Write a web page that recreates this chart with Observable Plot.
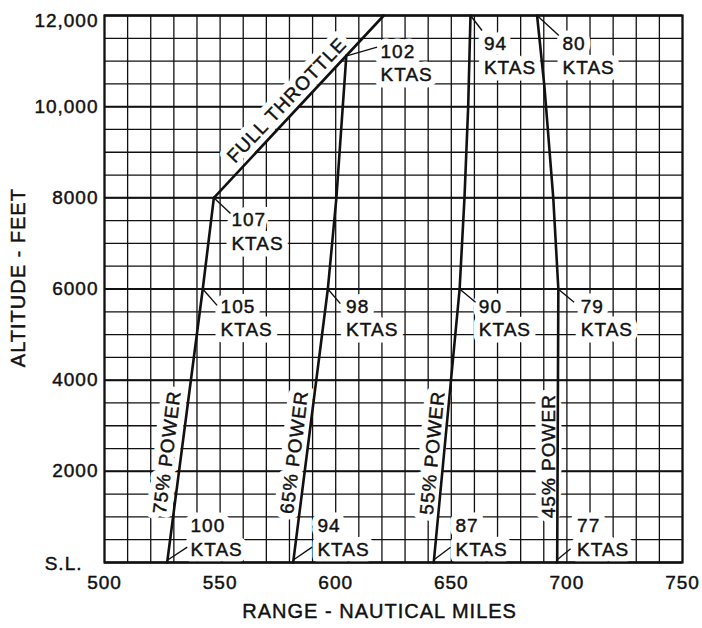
<!DOCTYPE html>
<html>
<head>
<meta charset="utf-8">
<script src="https://cdn.jsdelivr.net/npm/d3@7"></script>
<script src="https://cdn.jsdelivr.net/npm/@observablehq/plot@0.6"></script>
<style>
  html, body { margin: 0; padding: 0; background: white; }
</style>
</head>
<body>
<div id="chart"></div>
<script>
// Axis ticks
const xTicks = [500, 550, 600, 650, 700, 750];
const yTicks = [2000, 4000, 6000, 8000, 10000];
const yTickLabels = ["2000", "4000", "6000", "8000", "10,000"];
const yTopTick = [12000];
const yTopLabel = ["12,000"];
const ySeaLevelTick = [0];
const ySeaLevelLabel = ["S.L."];
const xTitle = "RANGE - NAUTICAL MILES";
const yTitle = "ALTITUDE - FEET";
const xTitlePos = [619, 0];
const yTitlePos = [500, 6250];

// Range curves (nautical miles vs altitude feet)
const power75X = [527.1, 542.5, 547.3];
const power75Y = [0, 6000, 8000];
const fullThrottleX = [547.3, 620.8];
const fullThrottleY = [8000, 12000];
const power65X = [581.6, 596.6, 600.3, 604.6];
const power65Y = [0, 6000, 8000, 11120];
const power55X = [642.4, 653.6, 655.7, 657.3, 658.3];
const power55Y = [0, 6000, 8000, 10000, 12000];
const power45X = [695.8, 696.3, 694.1, 690.3, 687.1];
const power45Y = [0, 6000, 8000, 10430, 12000];

// True airspeed annotations
const ktasValues = [107, 105, 100, 102, 98, 94, 94, 90, 87, 80, 79, 77];
const ktasAtX = [547.3, 542.5, 527.5, 605.2, 596.6, 581.8, 658.3, 653.6, 642.5, 687.1, 696.2, 695.8];
const ktasAtY = [8000, 6000, 60, 11120, 6000, 60, 12000, 6000, 60, 12000, 6000, 60];
const leaderEndX = [554.5, 548.7, 535.8, 617.9, 602, 589.8, 663.3, 660.5, 649.7, 696.5, 703.1, 701.6];
const leaderEndY = [7657, 5640, 336, 11305, 5680, 336, 11670, 5710, 336, 11560, 5710, 300];
const ktasLabelX = [554.9, 550.2, 537.2, 619.4, 604.5, 592.1, 664.1, 661.9, 651.8, 698.1, 706.0, 704.4];
const ktasLabelY = [7284, 5382, 574, 10977, 5382, 574, 11141, 5382, 574, 11141, 5382, 574];

// Power setting labels
const powerNames = ["75% POWER", "65% POWER", "55% POWER", "45% POWER"];
const powerLabelX = [527.1, 582.2, 641.9, 692.2];
const powerLabelY = [2420, 2420, 2407, 2333];
const powerLabelAngle = [-83, -83, -84.5, -90];
const fullThrottleLabel = "FULL THROTTLE";
const fullThrottleLabelPos = [578.9, 10140];
const fullThrottleAngle = -46.5;

// Build tables
function series(name, xs, ys) { return xs.map((x, i) => ({series: name, x, y: ys[i]})); }
const curves = [
  ...series("75", power75X, power75Y),
  ...series("ft", fullThrottleX, fullThrottleY),
  ...series("65", power65X, power65Y),
  ...series("55", power55X, power55Y),
  ...series("45", power45X, power45Y)
];
const ktas = ktasValues.map((v, i) => ({
  text: `${v}\nKTAS`, x1: ktasAtX[i], y1: ktasAtY[i], x2: leaderEndX[i], y2: leaderEndY[i],
  lx: ktasLabelX[i], ly: ktasLabelY[i]
}));
const powers = powerNames.map((t, i) => ({text: t, x: powerLabelX[i], y: powerLabelY[i], r: powerLabelAngle[i]}));

const gridX = d3.range(500, 751, 10);
const gridY = d3.range(0, 12001, 500);
const majorY = gridY.filter(d => d % 2000 === 0);
const ink = "#111";
const halo = {stroke: "white", strokeWidth: 13, strokeLinejoin: "round", fill: "white"};
const glyph = {fill: ink, stroke: ink, strokeWidth: 0.45};
const axisText = {textStroke: ink, textStrokeWidth: 0.45, textStrokeOpacity: 1};

const ktasOpts = {x: "lx", y: "ly", text: "text", textAnchor: "start", lineAnchor: "middle", lineHeight: 1.24, fontSize: 19};
const powerOpts = {x: "x", y: "y", text: "text", rotate: "r", fontSize: 19};
const ftOpts = {x: fullThrottleLabelPos[0], y: fullThrottleLabelPos[1], rotate: fullThrottleAngle, fontSize: 19, letterSpacing: "2px"};

const chart = Plot.plot({
  width: 702,
  height: 628,
  marginTop: 15,
  marginRight: 20,
  marginBottom: 66,
  marginLeft: 104,
  x: {domain: [500, 750]},
  y: {domain: [0, 12000]},
  style: {fontFamily: "'Liberation Sans', Arial, Helvetica, sans-serif", fontSize: "19px", letterSpacing: "1px", color: ink, background: "white"},
  marks: [
    Plot.ruleX(gridX, {stroke: ink, strokeWidth: 1.3}),
    Plot.ruleY(gridY, {stroke: ink, strokeWidth: 1.3}),
    Plot.ruleY(majorY, {stroke: ink, strokeWidth: 2}),
    // white clearings behind labels
    Plot.text(ktas, {...ktasOpts, ...halo}),
    Plot.text(powers, {...powerOpts, ...halo}),
    Plot.text([fullThrottleLabel], {...ftOpts, ...halo}),
    Plot.frame({stroke: ink, strokeWidth: 2.2}),
    Plot.axisX(xTicks, {tickSize: 0, tickPadding: 13, label: null, fontSize: 19, ...axisText}),
    Plot.axisY(yTicks, {tickSize: 0, tickPadding: 6, label: null, fontSize: 19, tickFormat: (d, i) => yTickLabels[i], ...axisText}),
    Plot.axisY(yTopTick, {tickSize: 0, tickPadding: 6, label: null, fontSize: 19, dy: 5, tickFormat: (d, i) => yTopLabel[i], ...axisText}),
    Plot.axisY(ySeaLevelTick, {tickSize: 0, tickPadding: 22, label: null, fontSize: 19, dy: 1, tickFormat: (d, i) => ySeaLevelLabel[i], ...axisText}),
    Plot.text([xTitle], {x: xTitlePos[0], y: xTitlePos[1], dy: 49, fontSize: 20, ...glyph}),
    Plot.text([yTitle], {x: yTitlePos[0], y: yTitlePos[1], dx: -86, rotate: -90, fontSize: 20, ...glyph}),
    // label glyphs
    Plot.text(ktas, {...ktasOpts, ...glyph}),
    Plot.text(powers, {...powerOpts, ...glyph}),
    Plot.text([fullThrottleLabel], {...ftOpts, ...glyph}),
    // curves and leaders
    Plot.link(ktas, {x1: "x1", y1: "y1", x2: "x2", y2: "y2", stroke: ink, strokeWidth: 1.4}),
    Plot.line(curves, {x: "x", y: "y", z: "series", stroke: ink, strokeWidth: 2.6, strokeLinejoin: "round"})
  ]
});
document.getElementById("chart").appendChild(chart);
</script>
</body>
</html>
